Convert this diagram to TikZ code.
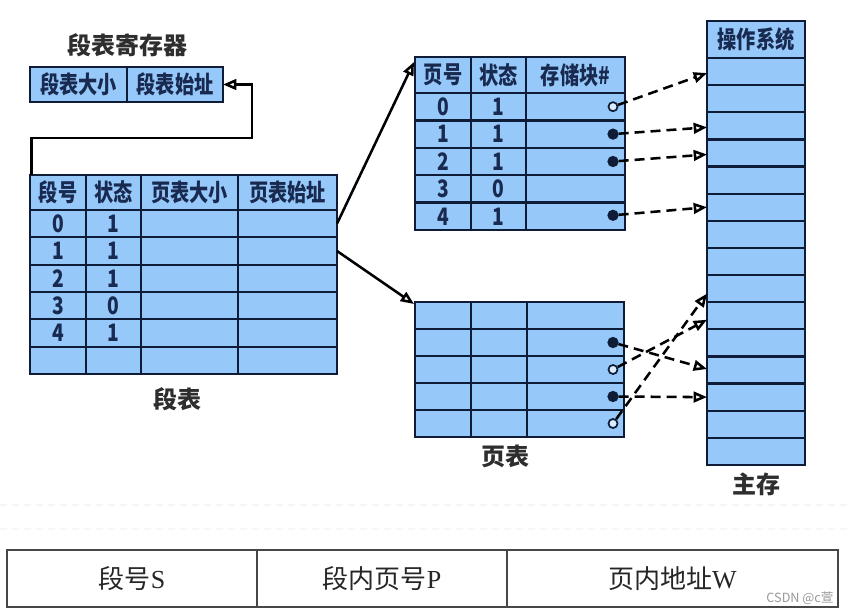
\documentclass[tikz,border=0pt]{standalone}
\usepackage{fontspec}
\setmainfont{Liberation Serif}
\newfontfamily\cjk[FakeStretch=0.8]{Noto Sans CJK SC}
\newfontfamily\cjkr{Noto Sans CJK SC}
\usetikzlibrary{arrows.meta,calc}
\definecolor{cellblue}{RGB}{150,200,250}
\definecolor{navy}{RGB}{15,28,55}
\definecolor{ink}{RGB}{25,42,80}
\newcommand\cellat[6]{\node[cellst, minimum width={(#4-#2)*0.75pt}, minimum height={(#5-#3)*0.75pt}] (#1) at ({(#2+#4)/2},{(#3+#5)/2}) {#6};}
\newcommand\addrat[6]{\node[addrst, minimum width={(#4-#2)*0.75pt}, minimum height={(#5-#3)*0.75pt}] (#1) at ({(#2+#4)/2},{(#3+#5)/2}) {#6};}
\tikzset{
  cellst/.style={draw=navy, fill=cellblue, line width=1.7pt, inner sep=0pt, outer sep=0pt,
    font=\cjk\bfseries\fontsize{18}{18}\selectfont, text=ink},
  addrst/.style={draw=black!72, line width=1.1pt, inner sep=0pt, outer sep=0pt,
    font=\cjkr\fontsize{19.5}{19.5}\selectfont, text=black!85},
  fdot/.style={circle, draw=navy, line width=0.9pt, fill=navy, minimum size=7.5pt, inner sep=0pt},
  odot/.style={circle, draw=navy, line width=1.3pt, fill=cellblue!35!white, minimum size=6.8pt, inner sep=0pt},
  ptr/.style={draw=black, line width=1.9pt, -{Triangle[open,length=10pt,width=8pt]}},
  dptr/.style={ptr, dash pattern=on 7.5pt off 4.5pt},
  lbl/.style={font=\cjkr\bfseries\fontsize{18}{18}\selectfont, text=black!82},
}
\begin{document}
\begin{tikzpicture}[x=0.75pt,y=-0.75pt]
\fill[white] (0,0) rectangle (848,614);
\useasboundingbox (0,0) rectangle (848,614);

% faint screen rows
\draw[gray!8, line width=2pt, dash pattern=on 5pt off 4pt] (0,505) -- (848,505);
\draw[gray!6, line width=1.5pt, dash pattern=on 5pt off 4pt] (0,529) -- (848,529);

% segment table register
\node[lbl] (regtitle) at (127,45) {段表寄存器};
\cellat{reg1}{30}{67}{127}{102}{段表大小}
\cellat{reg2}{127}{67}{223}{102}{段表始址}

% segment table
\cellat{s00}{30}{175}{86}{210}{段号}
\cellat{s01}{86}{175}{141}{210}{状态}
\cellat{s02}{141}{175}{238}{210}{页表大小}
\cellat{s03}{238}{175}{337}{210}{页表始址}
\foreach \r/\a/\b in {1/0/1,2/1/1,3/2/1,4/3/0,5/4/1,6//}{
  \pgfmathsetmacro\ya{210+(\r-1)*27.33}
  \pgfmathsetmacro\yb{\ya+27.33}
  \cellat{s\r0}{30}{\ya}{86}{\yb}{\a}
  \cellat{s\r1}{86}{\ya}{141}{\yb}{\b}
  \cellat{s\r2}{141}{\ya}{238}{\yb}{}
  \cellat{s\r3}{238}{\ya}{337}{\yb}{}
}
\node[lbl] (seglbl) at (177,399) {段表};

% page table (top)
\cellat{t00}{415}{57}{471}{93}{页号}
\cellat{t01}{471}{57}{526}{93}{状态}
\cellat{t02}{526}{57}{625}{93}{存储块\#}
\foreach \r/\a/\b in {1/0/1,2/1/1,3/2/1,4/3/0,5/4/1}{
  \pgfmathsetmacro\ya{93+(\r-1)*27.4}
  \pgfmathsetmacro\yb{\ya+27.4}
  \cellat{t\r0}{415}{\ya}{471}{\yb}{\a}
  \cellat{t\r1}{471}{\ya}{526}{\yb}{\b}
  \cellat{t\r2}{526}{\ya}{625}{\yb}{}
}

% page table (bottom)
\foreach \r in {0,...,4}{
  \pgfmathsetmacro\ya{302+\r*27}
  \pgfmathsetmacro\yb{\ya+27}
  \cellat{b\r0}{415}{\ya}{471}{\yb}{}
  \cellat{b\r1}{471}{\ya}{527}{\yb}{}
  \cellat{b\r2}{527}{\ya}{624}{\yb}{}
}
\node[lbl] (pglbl) at (505,456) {页表};

% main memory
\cellat{m0}{707}{21}{805}{58}{操作系统}
\foreach \i in {1,...,15}{
  \pgfmathsetmacro\ya{58+(\i-1)*27.13}
  \pgfmathsetmacro\yb{\ya+27.13}
  \cellat{m\i}{707}{\ya}{805}{\yb}{}
}
\node[lbl] (memlbl) at (756,484) {主存};

% pointer dots
\node[odot] (c1) at (613,106.7) {};
\node[fdot] (c2) at (613,134.1) {};
\node[fdot] (c3) at (613,161.5) {};
\node[fdot] (c5) at (613,215.3) {};
\node[fdot] (d1) at (613,342.5) {};
\node[odot] (d2) at (613,369.5) {};
\node[fdot] (d3) at (613,396.5) {};
\node[odot] (d4) at (613,423.5) {};

% register -> segment table
\coordinate (rc) at (252,138);
\draw[ptr] ([xshift=1.2pt]s00.north west) |- (rc) |- (reg2.east);

% segment table -> page tables
\draw[ptr] (s13.east) -- ($(t00.north west)+(-1,5)$);
\draw[ptr] (s23.east) -- ($(b00.north west)+(-1,2)$);

% page table -> memory
\draw[dptr] (c1) -- ($(m1.west)+(0,1.5)$);
\draw[dptr] (c2) -- ($(m3.west)+(0,1.5)$);
\draw[dptr] (c3) -- ($(m4.west)+(0,1.5)$);
\draw[dptr] (c5) -- (m6.west);
\draw[dptr] (d1) -- ($(m12.west)+(0,-1)$);
\draw[dptr] (d2) -- ($(m10.west)+(0,4)$);
\draw[dptr] (d3) -- (m13.west);
\draw[dptr] (d4) -- ($(m9.west)+(0,5)$);

% logical address format
\addrat{a1}{7}{550}{257}{607}{段号\rmfamily S}
\addrat{a2}{257}{550}{507}{607}{段内页号\rmfamily P}
\addrat{a3}{507}{550}{838}{607}{页内地址\rmfamily W}
\node[font=\cjkr\fontsize{9.5}{9.5}\selectfont, text=black!40] (wm) at (800,598) {CSDN @c萱};
\end{tikzpicture}
\end{document}
